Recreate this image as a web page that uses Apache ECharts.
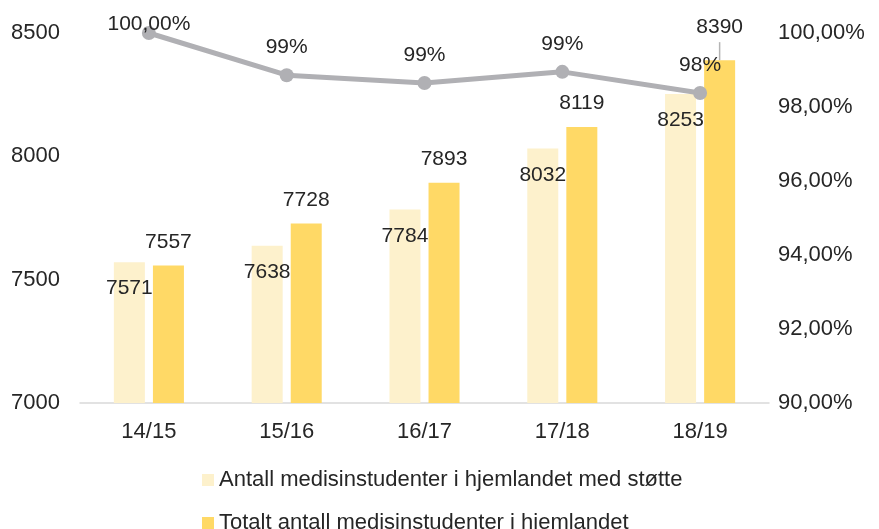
<!DOCTYPE html>
<html>
<head>
<meta charset="utf-8">
<script src="https://cdn.jsdelivr.net/npm/echarts@6/dist/echarts.min.js"></script>
<style>
    html, body { margin: 0; padding: 0; background: #fff; }
    #chart { width: 879px; height: 529px; }
</style>
</head>
<body>
<div id="chart"></div>
<script>
// data
const categories = ['14/15', '15/16', '16/17', '17/18', '18/19'];
const medStotte = [7571, 7638, 7784, 8032, 8253];
const totalt = [7557, 7728, 7893, 8119, 8390];
const andel = [100, 98.86, 98.65, 98.95, 98.38];
const andelLabels = ['100,00%', '99%', '99%', '99%', '98%'];

const TXT = '#262626';
const FONT = 'Liberation Sans, Arial, sans-serif';

const chart = echarts.init(document.getElementById('chart'), null, { renderer: 'canvas' });

const option = {
    animation: false,
    textStyle: { fontFamily: FONT, color: TXT },
    grid: { left: 80, right: 110, top: 33, bottom: 126 },
    legend: {
        orient: 'vertical',
        left: 202,
        top: 469,
        height: 90,
        padding: 0,
        icon: 'rect',
        itemWidth: 12,
        itemHeight: 12,
        itemGap: 21,
        data: ['Antall medisinstudenter i hjemlandet med støtte', 'Totalt antall medisinstudenter i hjemlandet'],
        textStyle: { fontSize: 22, color: TXT, fontFamily: FONT }
    },
    xAxis: {
        type: 'category',
        data: categories,
        axisLine: { lineStyle: { color: '#d9d9d9', width: 1.5 } },
        axisTick: { show: false },
        axisLabel: { fontSize: 22, color: TXT, margin: 18 }
    },
    yAxis: [
        {
            type: 'value',
            min: 7000,
            max: 8500,
            interval: 500,
            splitLine: { show: false },
            axisLine: { show: false },
            axisTick: { show: false },
            axisLabel: { fontSize: 22, color: TXT, margin: 20, formatter: v => String(v) }
        },
        {
            type: 'value',
            min: 90,
            max: 100,
            interval: 2,
            splitLine: { show: false },
            axisLine: { show: false },
            axisTick: { show: false },
            axisLabel: {
                fontSize: 22, color: TXT, margin: 9,
                formatter: v => v.toFixed(2).replace('.', ',') + '%'
            }
        }
    ],
    series: [
        {
            name: 'Antall medisinstudenter i hjemlandet med støtte',
            type: 'bar',
            data: medStotte,
            barWidth: 31,
            barGap: '26%',
            itemStyle: { color: '#fdf1cc' },
            label: {
                show: true,
                position: 'insideTop',
                distance: 16,
                fontSize: 21,
                color: TXT
            }
        },
        {
            name: 'Totalt antall medisinstudenter i hjemlandet',
            type: 'bar',
            data: totalt.map((v, i) => i === totalt.length - 1 ? {
                value: v,
                label: {
                    distance: 0,
                    formatter: '{v|{c}}\n{s|}\n{l|}',
                    rich: {
                        v: { fontSize: 21, lineHeight: 22, color: TXT },
                        s: { height: 4 },
                        l: { width: 1.5, height: 18, backgroundColor: '#b4b4b4' }
                    }
                }
            } : v),
            barWidth: 31,
            itemStyle: { color: '#ffd966' },
            label: {
                show: true,
                position: 'top',
                distance: 13,
                fontSize: 21,
                color: TXT
            }
        },
        {
            name: 'Andel',
            type: 'line',
            yAxisIndex: 1,
            data: andel.map((v, i) => i === 0 ? { value: v, label: { distance: -9 } } : v),
            symbol: 'circle',
            symbolSize: 14,
            lineStyle: { color: '#b0b0b4', width: 5 },
            itemStyle: { color: '#b0b0b4' },
            z: 5,
            label: {
                show: true,
                position: 'top',
                distance: 10,
                fontSize: 21,
                color: TXT,
                formatter: p => andelLabels[p.dataIndex]
            }
        }
    ]
};

chart.setOption(option);
</script>
</body>
</html>
